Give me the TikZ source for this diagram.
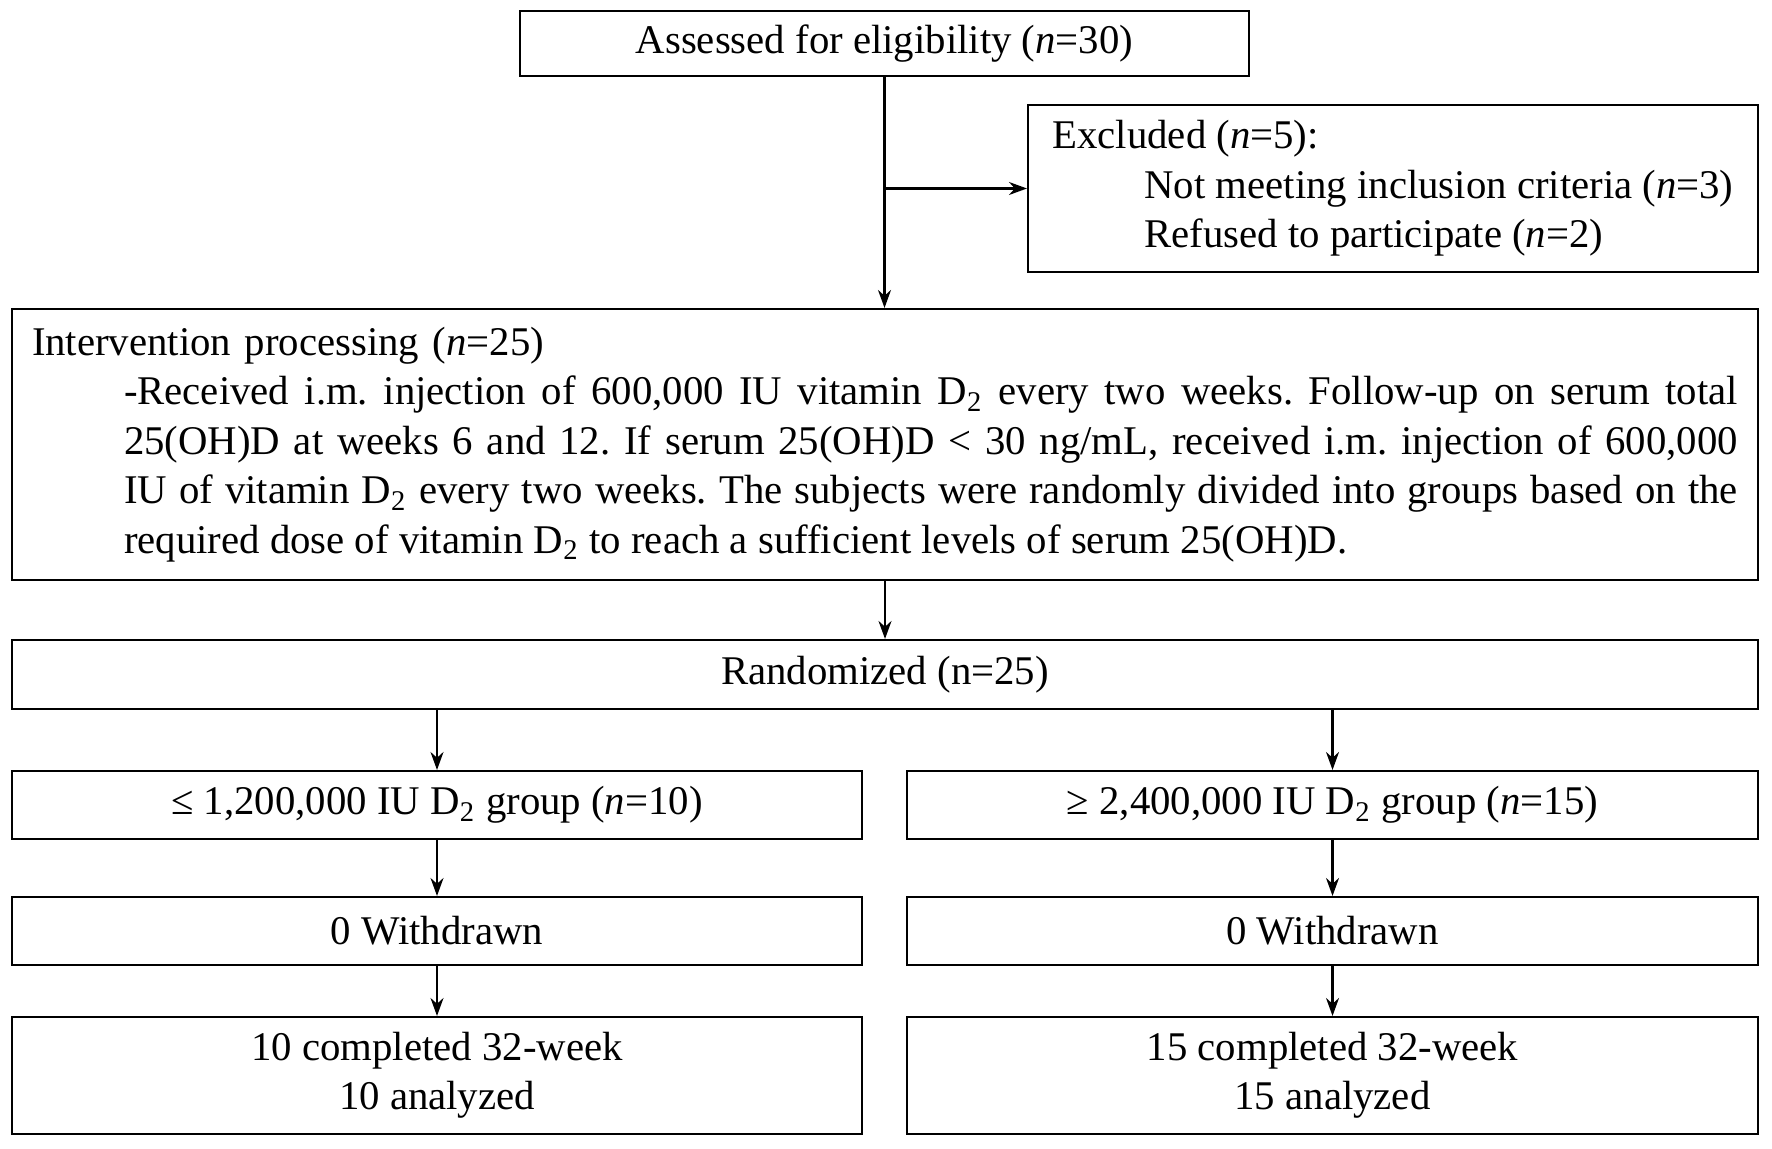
\documentclass[tikz,border=0pt]{standalone}
\usepackage{fontspec}
\setmainfont{Liberation Serif}
\usetikzlibrary{arrows.meta,calc,positioning}
\definecolor{FlowLine}{RGB}{0,0,0}

\begin{document}
\frenchspacing
\begin{tikzpicture}[x=0.1mm, y=-0.1mm,
    font=\fontsize{11.6}{14.05}\selectfont,
    flowbox/.style={draw=FlowLine, line width=0.6pt, inner sep=0pt, align=center},
    flowarrow/.style={-{Stealth[length=1.8mm, width=1.3mm]}, FlowLine, line width=0.6pt}]
    \useasboundingbox (0,0) rectangle (1772,1149);
    % screening
    \node[flowbox, minimum width=72.9mm, minimum height=6.5mm] (assess) at (884.5,43.5)
        {Assessed for eligibility (\textit{n}=30)};
    \node[flowbox, align=left, minimum width=73mm, minimum height=16.7mm] (excl) at (1393,188.5)
        {Excluded (\textit{n}=5):\\
         \hspace*{9.2mm}Not meeting inclusion criteria (\textit{n}=3)\\
         \hspace*{9.2mm}Refused to participate (\textit{n}=2)};
    \node[flowbox, align=left, text width=170.6mm, inner xsep=2mm, minimum height=27.1mm] (interv) at (885,444.5)
        {Intervention processing (\textit{n}=25)\\
         \hspace*{9.2mm}\parbox[t]{161.4mm}{\rightskip=0pt\spaceskip=0pt\xspaceskip=0pt\parfillskip=0pt plus 1fil\relax
         -Received i.m. injection of 600,000 IU vitamin D\textsubscript{2} every two weeks. Follow-up on serum total\linebreak
         25(OH)D at weeks 6 and 12. If serum 25(OH)D < 30 ng/mL, received i.m. injection of 600,000\linebreak
         IU of vitamin D\textsubscript{2} every two weeks. The subjects were randomly divided into groups based on the\linebreak
         required dose of vitamin D\textsubscript{2} to reach a sufficient levels of serum 25(OH)D.}};
    \node[flowbox, minimum width=174.6mm, minimum height=6.9mm] (rand) at (885,674.5)
        {Randomized (n=25)};
    % two dose groups
    \node[flowbox, minimum width=85mm, minimum height=6.8mm] (grpA) at (437,805)
        {≤ 1,200,000 IU D\textsubscript{2} group (\textit{n}=10)};
    \node[flowbox, minimum width=85.1mm, minimum height=6.8mm] (grpB) at (1332.5,805)
        {≥ 2,400,000 IU D\textsubscript{2} group (\textit{n}=15)};
    \node[flowbox, minimum width=85mm, minimum height=6.8mm] (wdA) at (437,931) {0 Withdrawn};
    \node[flowbox, minimum width=85.1mm, minimum height=6.8mm] (wdB) at (1332.5,931) {0 Withdrawn};
    \node[flowbox, minimum width=85mm, minimum height=11.7mm] (compA) at (437,1075.5)
        {10 completed 32-week\\10 analyzed};
    \node[flowbox, minimum width=85.1mm, minimum height=11.7mm] (compB) at (1332.5,1075.5)
        {15 completed 32-week\\15 analyzed};
    % connectors
    \coordinate (split) at (assess.south |- excl.west);
    \draw[flowarrow] (assess.south) -- (assess.south |- interv.north);
    \draw[flowarrow] (split) -- (excl.west);
    \draw[flowarrow] (interv.south) -- (interv.south |- rand.north);
    \foreach \g in {A,B} {
        \draw[flowarrow] (grp\g.north |- rand.south) -- (grp\g.north);
        \draw[flowarrow] (grp\g) -- (wd\g);
        \draw[flowarrow] (wd\g) -- (comp\g);
    }
\end{tikzpicture}
\end{document}
